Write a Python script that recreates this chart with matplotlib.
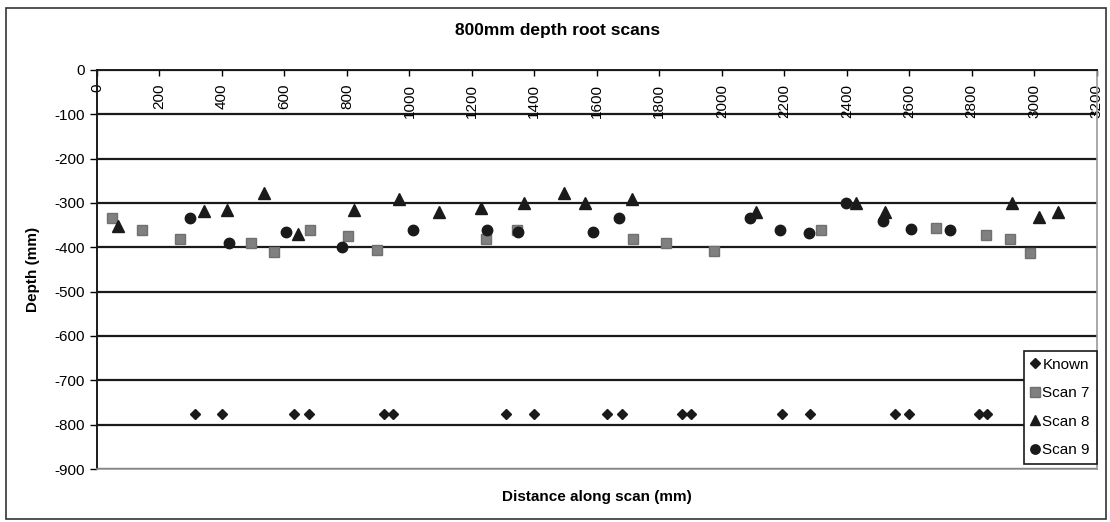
import matplotlib
matplotlib.use("Agg")
import matplotlib.pyplot as plt
from matplotlib.patches import Rectangle

plt.rcParams['font.family'] = ['Liberation Sans', 'DejaVu Sans']

# Known root positions (all at the same depth)
known_x = [314, 400, 630, 678, 918, 947, 1309, 1398, 1632, 1680,
           1872, 1901, 2192, 2282, 2554, 2598, 2822, 2848]
known_y = [-775] * len(known_x)

scan7_x = [47, 143, 266, 493, 567, 682, 802, 897, 1245, 1344,
           1715, 1820, 1975, 2317, 2685, 2845, 2922, 2986]
scan7_y = [-335, -360, -381, -390, -410, -360, -374, -406, -381, -360,
           -382, -390, -408, -360, -357, -372, -382, -413]

scan8_x = [66, 343, 415, 534, 642, 823, 967, 1095, 1230, 1366,
           1494, 1562, 1712, 2110, 2429, 2522, 2928, 3014, 3075]
scan8_y = [-352, -318, -316, -278, -371, -316, -290, -320, -312, -300,
           -278, -300, -290, -320, -300, -320, -300, -332, -320]

scan9_x = [298, 423, 605, 783, 1012, 1248, 1347, 1587, 1670, 2090,
           2185, 2278, 2397, 2515, 2605, 2730]
scan9_y = [-335, -390, -365, -399, -360, -360, -365, -365, -335, -335,
           -360, -367, -300, -340, -358, -360]

x_ticks = list(range(0, 3201, 200))
y_ticks = list(range(0, -901, -100))

fig = plt.figure(figsize=(11.1, 5.22), dpi=100)
ax = fig.add_axes([0.0874, 0.1015, 0.9006, 0.7645])

# horizontal gridlines every 100 mm
for yv in y_ticks:
    ax.axhline(yv, color='#1a1a1a', lw=1.6, zorder=1)

ax.plot(known_x, known_y, ls='none', marker='D', ms=5.5, color='#1a1a1a', label='Known', zorder=3)
ax.plot(scan7_x, scan7_y, ls='none', marker='s', ms=7.5, color='#808080', mec='#707070', label='Scan 7', zorder=3)
ax.plot(scan8_x, scan8_y, ls='none', marker='^', ms=8, color='#1a1a1a', label='Scan 8', zorder=3)
ax.plot(scan9_x, scan9_y, ls='none', marker='o', ms=7.5, color='#1a1a1a', label='Scan 9', zorder=3)

ax.set_xlim(0, 3200)
ax.set_ylim(-900, 0)

# x axis sits on the top (y = 0) with labels hanging below it
ax.set_xticks(x_ticks, [str(v) for v in x_ticks], rotation=90, va='top', fontsize=11)
ax.tick_params(axis='x', top=True, bottom=False, labeltop=True, labelbottom=False,
               direction='in', length=4, width=1, pad=-10)
ax.set_yticks(y_ticks, [str(v) for v in y_ticks], fontsize=11)
ax.tick_params(axis='y', direction='out', length=5, width=1, pad=4)

for side in ['left', 'top']:
    ax.spines[side].set_color('#1a1a1a')
    ax.spines[side].set_linewidth(1.4)
for side in ['right', 'bottom']:
    ax.spines[side].set_color('#9a9a9a')
    ax.spines[side].set_linewidth(1.2)

ax.set_ylabel('Depth (mm)', fontsize=11, fontweight='bold', labelpad=10)
fig.text(0.538, 0.047, 'Distance along scan (mm)', fontsize=11, fontweight='bold', ha='center', va='center')
fig.text(0.502, 0.942, '800mm depth root scans', fontsize=12.5, fontweight='bold', ha='center', va='center')

leg = ax.legend(loc='lower right', bbox_to_anchor=(1.0, 0.012), fontsize=11,
                frameon=True, fancybox=False, edgecolor='#1a1a1a', framealpha=1,
                handlelength=0.6, handletextpad=0.15, borderpad=0.45,
                labelspacing=0.95, borderaxespad=0, markerscale=0.9)
leg.get_frame().set_linewidth(1.2)
leg.set_zorder(5)

# outer chart border
fig.patches.append(Rectangle((0.005, 0.006), 0.991, 0.978, transform=fig.transFigure,
                             fill=False, edgecolor='#333333', lw=1.2))

plt.savefig('out.png', dpi=100)
